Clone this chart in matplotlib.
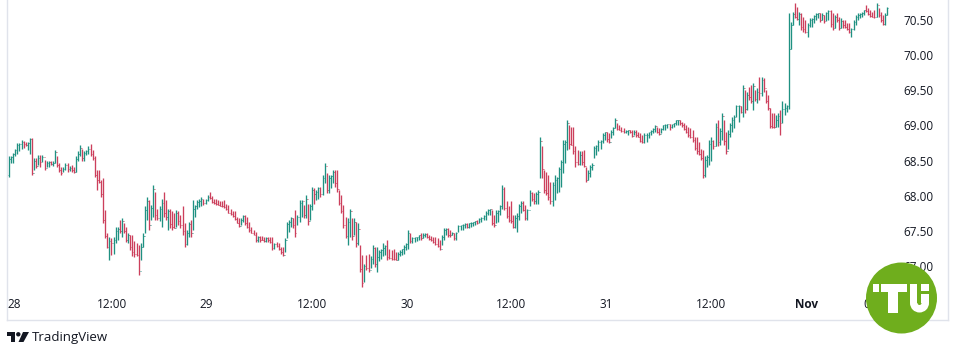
import matplotlib
matplotlib.use("Agg")
import matplotlib.pyplot as plt
import matplotlib.transforms as mtransforms
from matplotlib.collections import LineCollection
from matplotlib.patches import Circle, Rectangle, Wedge, Polygon

# OHLC bars (opens follow the previous close)
first_open = 68.32

highs = [
    68.58, 68.58, 68.63, 68.69, 68.77, 68.77, 68.81, 68.80, 68.79, 68.79,
    68.84, 68.84, 68.55, 68.55, 68.60, 68.60, 68.60, 68.53, 68.51, 68.51,
    68.51, 68.52, 68.67, 68.58, 68.48, 68.43, 68.43, 68.49, 68.48, 68.45,
    68.46, 68.43, 68.58, 68.65, 68.74, 68.69, 68.65, 68.67, 68.72, 68.76,
    68.67, 68.58, 68.39, 68.39, 68.24, 68.27, 67.82, 67.49, 67.44, 67.42,
    67.44, 67.58, 67.58, 67.68, 67.70, 67.63, 67.58, 67.49, 67.46, 67.46,
    67.38, 67.35, 67.32, 67.35, 67.49, 67.87, 68.01, 67.96, 67.89, 68.17,
    68.08, 67.84, 67.88, 67.98, 68.08, 67.96, 67.84, 67.84, 67.80, 67.77,
    67.82, 67.80, 67.75, 67.88, 67.63, 67.54, 67.65, 67.68, 67.96, 67.89,
    67.96, 67.97, 68.01, 67.98, 67.98, 68.03, 68.07, 68.02, 67.98, 67.97,
    67.96, 67.95, 67.94, 67.96, 67.91, 67.89, 67.84, 67.81, 67.80, 67.72,
    67.70, 67.70, 67.75, 67.75, 67.72, 67.65, 67.58, 67.54, 67.51, 67.45,
    67.45, 67.45, 67.43, 67.44, 67.43, 67.44, 67.43, 67.35, 67.37, 67.35,
    67.30, 67.30, 67.42, 67.65, 67.68, 67.72, 67.70, 67.82, 67.75, 67.96,
    67.96, 67.89, 68.03, 67.91, 67.91, 68.15, 68.13, 68.10, 68.15, 68.15,
    68.32, 68.48, 68.34, 68.32, 68.32, 68.38, 68.39, 68.39, 68.10, 68.03,
    67.89, 67.72, 67.70, 67.84, 67.70, 67.70, 67.65, 67.63, 67.32, 67.18,
    67.06, 67.18, 67.20, 67.16, 67.32, 67.30, 67.30, 67.25, 67.27, 67.35,
    67.32, 67.39, 67.27, 67.25, 67.26, 67.23, 67.23, 67.25, 67.27, 67.32,
    67.35, 67.54, 67.49, 67.44, 67.43, 67.44, 67.46, 67.49, 67.49, 67.49,
    67.50, 67.46, 67.45, 67.43, 67.43, 67.42, 67.39, 67.46, 67.56, 67.56,
    67.56, 67.54, 67.51, 67.49, 67.51, 67.61, 67.61, 67.62, 67.63, 67.63,
    67.64, 67.65, 67.65, 67.67, 67.68, 67.70, 67.72, 67.75, 67.80, 67.84,
    67.84, 67.82, 67.75, 67.82, 67.82, 67.89, 68.17, 68.15, 67.94, 67.87,
    67.94, 67.75, 67.75, 67.77, 67.91, 67.94, 67.94, 67.89, 67.84, 68.10,
    68.08, 68.06, 68.08, 68.10, 68.86, 68.72, 68.39, 68.36, 68.32, 68.22,
    68.22, 68.32, 68.29, 68.43, 68.53, 68.81, 68.81, 69.10, 69.03, 69.00,
    69.00, 68.72, 68.67, 68.65, 68.65, 68.67, 68.43, 68.39, 68.46, 68.48,
    68.72, 68.74, 68.81, 68.81, 68.91, 68.93, 68.93, 68.91, 68.95, 69.00,
    69.12, 69.05, 69.03, 69.00, 68.98, 68.95, 68.95, 68.96, 68.95, 68.95,
    68.95, 68.93, 68.91, 68.88, 68.91, 68.91, 68.93, 68.95, 68.98, 69.03,
    69.00, 68.98, 68.98, 69.03, 69.04, 69.04, 69.04, 69.04, 69.06, 69.10,
    69.10, 69.10, 69.07, 69.05, 69.03, 69.00, 68.98, 68.95, 68.86, 68.86,
    68.79, 68.69, 68.67, 68.58, 68.60, 68.81, 68.86, 68.81, 69.05, 69.10,
    68.98, 69.19, 69.10, 68.93, 68.95, 69.05, 69.14, 69.17, 69.31, 69.31,
    69.29, 69.59, 69.52, 69.50, 69.57, 69.59, 69.62, 69.52, 69.55, 69.71,
    69.71, 69.69, 69.52, 69.45, 69.26, 69.19, 69.19, 69.17, 69.19, 69.24,
    69.36, 69.33, 69.31, 70.61, 70.49, 70.63, 70.75, 70.70, 70.63, 70.61,
    70.56, 70.51, 70.47, 70.54, 70.54, 70.58, 70.61, 70.61, 70.61, 70.61,
    70.58, 70.63, 70.66, 70.66, 70.61, 70.58, 70.61, 70.56, 70.54, 70.51,
    70.51, 70.47, 70.47, 70.40, 70.51, 70.58, 70.61, 70.61, 70.63, 70.66,
    70.73, 70.68, 70.66, 70.63, 70.66, 70.75, 70.68, 70.63, 70.58, 70.61,
    70.70,
]

lows = [
    68.29, 68.48, 68.49, 68.58, 68.62, 68.65, 68.68, 68.70, 68.72, 68.67,
    68.62, 68.32, 68.39, 68.41, 68.46, 68.43, 68.50, 68.39, 68.43, 68.43,
    68.46, 68.44, 68.48, 68.43, 68.36, 68.32, 68.36, 68.39, 68.36, 68.37,
    68.36, 68.34, 68.36, 68.51, 68.58, 68.51, 68.51, 68.60, 68.62, 68.58,
    68.53, 68.29, 68.10, 68.20, 68.01, 67.63, 67.42, 67.28, 67.11, 67.18,
    67.20, 67.35, 67.39, 67.49, 67.44, 67.49, 67.37, 67.35, 67.25, 67.16,
    67.15, 67.16, 66.90, 67.11, 67.30, 67.49, 67.68, 67.54, 67.68, 67.72,
    67.68, 67.68, 67.66, 67.58, 67.72, 67.68, 67.54, 67.56, 67.54, 67.56,
    67.58, 67.60, 67.56, 67.47, 67.30, 67.32, 67.44, 67.44, 67.54, 67.72,
    67.84, 67.86, 67.87, 67.89, 67.91, 67.94, 67.98, 67.92, 67.91, 67.89,
    67.89, 67.87, 67.86, 67.85, 67.82, 67.77, 67.75, 67.72, 67.68, 67.63,
    67.58, 67.61, 67.65, 67.61, 67.56, 67.51, 67.49, 67.46, 67.37, 67.36,
    67.37, 67.39, 67.37, 67.37, 67.37, 67.35, 67.25, 67.27, 67.30, 67.25,
    67.20, 67.16, 67.23, 67.42, 67.51, 67.58, 67.56, 67.44, 67.61, 67.65,
    67.72, 67.70, 67.70, 67.61, 67.68, 67.82, 67.91, 67.96, 67.98, 68.01,
    68.03, 68.20, 68.06, 68.06, 68.13, 68.20, 68.15, 68.08, 67.89, 67.77,
    67.56, 67.42, 67.32, 67.44, 67.39, 67.46, 67.30, 67.32, 66.94, 66.73,
    66.80, 66.97, 66.94, 66.99, 67.06, 67.01, 66.94, 67.09, 67.13, 67.16,
    67.18, 67.11, 67.13, 67.11, 67.11, 67.11, 67.11, 67.16, 67.18, 67.20,
    67.25, 67.27, 67.35, 67.35, 67.37, 67.38, 67.39, 67.40, 67.42, 67.43,
    67.42, 67.39, 67.38, 67.35, 67.32, 67.30, 67.25, 67.32, 67.39, 67.46,
    67.44, 67.44, 67.46, 67.39, 67.39, 67.51, 67.54, 67.54, 67.56, 67.56,
    67.57, 67.58, 67.59, 67.60, 67.62, 67.63, 67.65, 67.68, 67.68, 67.75,
    67.75, 67.61, 67.58, 67.63, 67.65, 67.75, 67.84, 67.82, 67.70, 67.65,
    67.63, 67.56, 67.56, 67.51, 67.68, 67.77, 67.80, 67.68, 67.68, 67.87,
    67.94, 67.91, 67.91, 67.91, 68.27, 68.27, 68.06, 68.03, 67.96, 67.91,
    67.87, 67.96, 68.06, 68.08, 68.15, 68.34, 68.48, 68.67, 68.69, 68.74,
    68.62, 68.43, 68.46, 68.46, 68.46, 68.43, 68.22, 68.25, 68.29, 68.39,
    68.55, 68.60, 68.65, 68.69, 68.77, 68.81, 68.79, 68.77, 68.84, 68.88,
    68.98, 68.95, 68.95, 68.93, 68.91, 68.91, 68.88, 68.91, 68.86, 68.88,
    68.86, 68.86, 68.79, 68.77, 68.77, 68.79, 68.84, 68.88, 68.91, 68.93,
    68.91, 68.88, 68.91, 68.95, 68.96, 68.98, 68.96, 68.98, 69.00, 69.03,
    69.03, 69.03, 69.00, 68.95, 68.91, 68.86, 68.84, 68.79, 68.67, 68.62,
    68.60, 68.53, 68.27, 68.29, 68.43, 68.46, 68.51, 68.69, 68.72, 68.72,
    68.74, 68.81, 68.74, 68.62, 68.69, 68.86, 68.93, 68.98, 69.14, 69.07,
    69.19, 69.14, 69.19, 69.24, 69.38, 69.33, 69.24, 69.36, 69.33, 69.38,
    69.43, 69.50, 69.33, 69.24, 68.98, 68.98, 68.98, 69.00, 69.00, 68.88,
    69.05, 69.17, 69.21, 69.25, 70.10, 70.45, 70.54, 70.51, 70.44, 70.37,
    70.35, 70.33, 70.28, 70.42, 70.42, 70.47, 70.51, 70.54, 70.49, 70.51,
    70.47, 70.50, 70.51, 70.42, 70.37, 70.40, 70.49, 70.37, 70.40, 70.40,
    70.40, 70.37, 70.33, 70.28, 70.37, 70.44, 70.51, 70.54, 70.56, 70.59,
    70.63, 70.59, 70.56, 70.56, 70.54, 70.55, 70.56, 70.49, 70.44, 70.44,
    70.58,
]

closes = [
    68.54, 68.57, 68.61, 68.67, 68.74, 68.75, 68.79, 68.76, 68.74, 68.77,
    68.82, 68.34, 68.52, 68.45, 68.56, 68.50, 68.57, 68.42, 68.48, 68.50,
    68.47, 68.49, 68.64, 68.46, 68.39, 68.34, 68.40, 68.46, 68.40, 68.42,
    68.38, 68.36, 68.54, 68.62, 68.70, 68.55, 68.63, 68.66, 68.69, 68.62,
    68.56, 68.32, 68.25, 68.22, 68.05, 67.68, 67.45, 67.30, 67.38, 67.35,
    67.40, 67.52, 67.55, 67.52, 67.66, 67.52, 67.40, 67.46, 67.29, 67.22,
    67.19, 67.18, 66.96, 67.30, 67.45, 67.82, 67.95, 67.60, 67.85, 68.12,
    67.75, 67.70, 67.84, 67.92, 67.78, 67.72, 67.80, 67.62, 67.58, 67.57,
    67.78, 67.66, 67.60, 67.52, 67.34, 67.50, 67.62, 67.50, 67.84, 67.87,
    67.93, 67.95, 67.98, 67.92, 67.96, 68.01, 67.99, 67.93, 67.92, 67.90,
    67.89, 67.88, 67.87, 67.86, 67.83, 67.78, 67.76, 67.73, 67.69, 67.64,
    67.59, 67.68, 67.73, 67.64, 67.58, 67.53, 67.50, 67.47, 67.39, 67.43,
    67.40, 67.39, 67.38, 67.42, 67.39, 67.36, 67.28, 67.33, 67.31, 67.27,
    67.22, 67.18, 67.40, 67.62, 67.65, 67.70, 67.60, 67.50, 67.72, 67.92,
    67.94, 67.75, 67.98, 67.66, 67.88, 68.10, 68.05, 68.08, 68.13, 68.04,
    68.28, 68.45, 68.10, 68.28, 68.30, 68.36, 68.20, 68.12, 67.92, 67.80,
    67.60, 67.45, 67.65, 67.80, 67.45, 67.65, 67.35, 67.55, 66.98, 66.78,
    67.02, 67.00, 66.97, 67.13, 67.28, 67.05, 67.15, 67.22, 67.25, 67.28,
    67.31, 67.15, 67.14, 67.13, 67.12, 67.11, 67.20, 67.23, 67.26, 67.30,
    67.34, 67.50, 67.38, 67.42, 67.43, 67.44, 67.46, 67.42, 67.47, 67.48,
    67.44, 67.41, 67.39, 67.36, 67.34, 67.31, 67.27, 67.44, 67.53, 67.55,
    67.47, 67.46, 67.50, 67.42, 67.49, 67.59, 67.60, 67.61, 67.62, 67.58,
    67.63, 67.64, 67.65, 67.66, 67.63, 67.69, 67.71, 67.74, 67.78, 67.82,
    67.83, 67.64, 67.60, 67.78, 67.80, 67.87, 68.12, 67.85, 67.73, 67.68,
    67.66, 67.58, 67.70, 67.74, 67.88, 67.92, 67.82, 67.70, 67.82, 68.06,
    67.97, 67.94, 68.05, 68.08, 68.80, 68.40, 68.10, 68.06, 68.00, 67.95,
    68.18, 68.24, 68.27, 68.40, 68.50, 68.76, 68.78, 69.05, 68.75, 68.74,
    68.65, 68.50, 68.47, 68.60, 68.50, 68.45, 68.25, 68.35, 68.43, 68.46,
    68.70, 68.72, 68.79, 68.80, 68.89, 68.92, 68.82, 68.79, 68.93, 68.98,
    69.10, 68.97, 68.96, 68.94, 68.92, 68.94, 68.95, 68.92, 68.87, 68.93,
    68.88, 68.86, 68.80, 68.78, 68.88, 68.89, 68.92, 68.94, 68.97, 69.01,
    68.93, 68.90, 68.97, 69.02, 69.03, 69.04, 69.00, 69.04, 69.05, 69.09,
    69.10, 69.05, 69.02, 68.97, 68.93, 68.88, 68.86, 68.81, 68.70, 68.65,
    68.62, 68.55, 68.31, 68.53, 68.57, 68.76, 68.80, 68.72, 69.00, 68.78,
    68.94, 69.15, 68.80, 68.65, 68.90, 69.02, 69.10, 69.14, 69.29, 69.30,
    69.21, 69.55, 69.25, 69.45, 69.42, 69.37, 69.58, 69.40, 69.50, 69.48,
    69.66, 69.55, 69.36, 69.27, 69.01, 69.00, 68.99, 69.10, 69.15, 69.05,
    69.25, 69.27, 69.29, 70.10, 70.45, 70.60, 70.56, 70.53, 70.60, 70.42,
    70.38, 70.35, 70.44, 70.52, 70.53, 70.57, 70.60, 70.61, 70.52, 70.59,
    70.50, 70.61, 70.64, 70.46, 70.40, 70.55, 70.51, 70.40, 70.50, 70.44,
    70.42, 70.39, 70.35, 70.38, 70.49, 70.56, 70.59, 70.60, 70.62, 70.65,
    70.64, 70.60, 70.57, 70.56, 70.55, 70.72, 70.58, 70.51, 70.46, 70.58,
    70.68,
]

price_ticks = [70.50, 70.00, 69.50, 69.00, 68.50, 68.00, 67.50, 67.00]
time_positions = [2.4, 49.3, 94.2, 144.9, 190.4, 240.1, 285.6, 335.8, 381.3, 415.7]
time_labels = ["28", "12:00", "29", "12:00", "30", "12:00", "31", "12:00", "Nov", "06:00"]

up = "#1f9182"
down = "#cc3f5c"
text = "#131722"
frame = "#e0e3eb"
green = "#6fae1d"

plt.rcParams["font.family"] = ["Open Sans", "DejaVu Sans"]

opens = [first_open] + closes[:-1]

W, H = 956, 353
fig = plt.figure(figsize=(W / 100, H / 100), dpi=100, facecolor="white")
ax = fig.add_axes([7 / W, 1 - 320 / H, 941 / W, 320 / H])
ax.set_xlim(-0.96, 449.2)
ax.set_ylim(66.259, 70.798)
ax.set_xticks([])
ax.set_yticks([])
ax.spines["top"].set_visible(False)
for s in ["left", "right", "bottom"]:
    ax.spines[s].set_color(frame)
    ax.spines[s].set_linewidth(1)

# vertical range lines and open/close ticks
vsegs, tsegs, vcols, tcols = [], [], [], []
for i, (o, h, l, c) in enumerate(zip(opens, highs, lows, closes)):
    col = up if c >= o else down
    vsegs.append([(i, l), (i, h)])
    vcols.append(col)
    tsegs.append([(i - 0.4, o), (i, o)])
    tsegs.append([(i, c), (i + 0.4, c)])
    tcols += [col, col]
ax.add_collection(LineCollection(vsegs, colors=vcols, linewidths=0.95))
ax.add_collection(LineCollection(tsegs, colors=tcols, linewidths=0.6))

ytrans = mtransforms.blended_transform_factory(ax.transAxes, ax.transData)
for p in price_ticks:
    ax.text(0.985, p, f"{p:.2f}", transform=ytrans, ha="right", va="center",
            fontsize=8.5, color=text)

xtrans = mtransforms.blended_transform_factory(ax.transData, ax.transAxes)
for pos, lab in zip(time_positions, time_labels):
    ax.text(pos, 0.05, lab, transform=xtrans, ha="center", va="center",
            fontsize=8.5, color=text,
            fontweight="bold" if lab == "Nov" else "normal")

# overlay in pixel units for the logos
ov = fig.add_axes([0, 0, 1, 1])
ov.set_xlim(0, W)
ov.set_ylim(H, 0)
ov.axis("off")
ov.patch.set_alpha(0)

# TradingView mark + wordmark
ov.add_patch(Rectangle((7, 332), 8.5, 4, color=text, lw=0))
ov.add_patch(Rectangle((11.5, 332), 4, 10, color=text, lw=0))
ov.add_patch(Circle((18.3, 334.3), 2.2, color=text, lw=0))
ov.add_patch(Polygon([(23, 332), (29, 332), (23.5, 342), (18.5, 342)], color=text, lw=0))
ov.text(32, 337.5, "TradingView", fontsize=9.5, color=text, ha="left", va="center")

# TU badge
ov.add_patch(Circle((901.5, 298), 35.5, color=green, lw=0))
ov.add_patch(Rectangle((873, 284), 6, 8, color="white", lw=0))
ov.add_patch(Rectangle((881, 284), 26, 8, color="white", lw=0))
ov.add_patch(Rectangle((888.5, 292), 10, 21, color="white", lw=0))
ov.add_patch(Rectangle((910, 284), 7.5, 19, color="white", lw=0))
ov.add_patch(Rectangle((921.5, 294), 7.5, 9, color="white", lw=0))
ov.add_patch(Rectangle((921.5, 284), 7.5, 7, color="white", lw=0))
ov.add_patch(Wedge((919.5, 303), 9.5, 0, 180, width=7.5, color="white", lw=0))

fig.savefig("out.png", dpi=100, facecolor="white")
plt.close(fig)
